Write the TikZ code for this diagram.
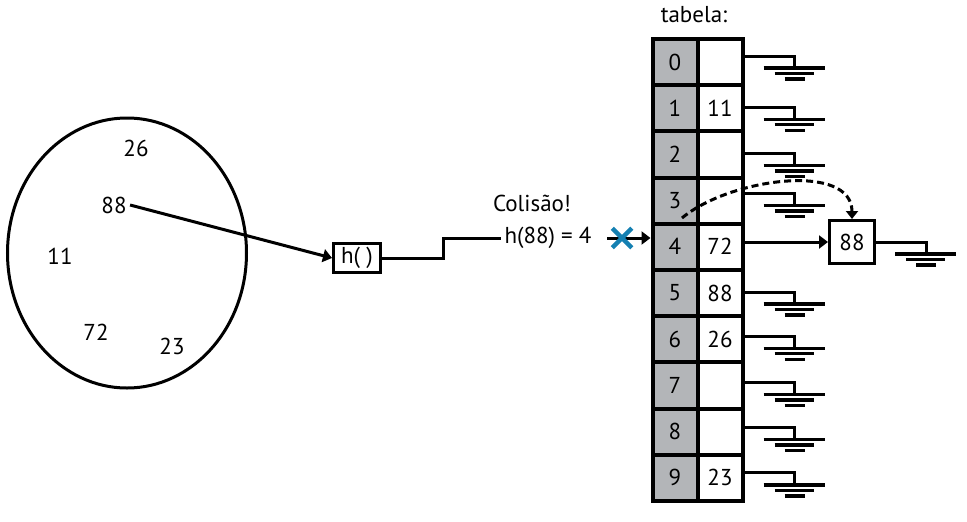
\documentclass[tikz,border=0pt]{standalone}
\usepackage{fontspec}
\setmainfont{PT Sans}
\usetikzlibrary{arrows.meta,shapes.geometric,shapes.misc}
\definecolor{slotgray}{RGB}{179,181,184}
\definecolor{hitblue}{RGB}{20,128,178}
\tikzset{
  slot/.style={draw, line width=4pt, minimum width=45pt, minimum height=46.2pt, inner sep=0pt},
  idx/.style={slot, fill=slotgray},
  val/.style={slot, fill=white},
  box/.style={draw, line width=3pt, inner sep=0pt},
  link/.style={line width=3pt, -{Triangle[length=9pt,width=13pt]}},
  earth/.pic={
    \draw[line width=3pt] (0,0) -| (50,12);
    \draw[line width=3.4pt] (19,12) -- (80,12) (30,17.5) -- (69,17.5) (40,23) -- (60,23);
  }
}
\begin{document}
\begin{tikzpicture}[x=1pt, y=-1pt, every node/.style={font=\fontsize{23}{27}\selectfont}]
  \useasboundingbox (0,0) rectangle (967,522);
  % the set of keys
  \node[draw, ellipse, line width=3pt, minimum width=239pt, minimum height=270pt] (set) at (127,253) {};
  \draw
    (136,148) node (k26){26}
    (114,205) node (k88){88}
    (60,256) node (k11){11}
    (96,332) node (k72){72}
    (172,346) node (k23){23};
  % hash function
  \node[box, minimum width=47pt, minimum height=29pt] (h) at (357,258) {h(\;)};
  \node (hv) at (548,238) {h(88) = 4};
  \node (col) at (532,203) {Colisão!};
  \node (tab) at (694,15) {tabela:};
  % the table
  \draw
    (675,62.0) node[idx] (i0){0}
    (675,108.2) node[idx] (i1){1}
    (675,154.4) node[idx] (i2){2}
    (675,200.6) node[idx] (i3){3}
    (675,246.8) node[idx] (i4){4}
    (675,293.0) node[idx] (i5){5}
    (675,339.2) node[idx] (i6){6}
    (675,385.4) node[idx] (i7){7}
    (675,431.6) node[idx] (i8){8}
    (675,477.8) node[idx] (i9){9};
  \draw
    (720,62.0) node[val] (v0){}
    (720,108.2) node[val] (v1){11}
    (720,154.4) node[val] (v2){}
    (720,200.6) node[val] (v3){}
    (720,246.8) node[val] (v4){72}
    (720,293.0) node[val] (v5){88}
    (720,339.2) node[val] (v6){26}
    (720,385.4) node[val] (v7){}
    (720,431.6) node[val] (v8){}
    (720,477.8) node[val] (v9){23};
  \node[box, minimum width=45pt, minimum height=43pt] (b88) at (852,242) {88};
  % empty lists
  \pic at ([yshift=6pt]v0.east) {earth};
  \pic at ([yshift=1pt]v1.east) {earth};
  \pic at ([yshift=1pt]v2.east) {earth};
  \pic at ([yshift=7pt]v3.east) {earth};
  \pic at ([yshift=1pt]v5.east) {earth};
  \pic at ([yshift=3pt]v6.east) {earth};
  \pic at ([yshift=3pt]v7.east) {earth};
  \pic at ([yshift=4pt]v8.east) {earth};
  \pic at ([yshift=5pt]v9.east) {earth};
  \pic at (b88.east) {earth};
  % connectors
  \draw[link] (k88.east) -- (h.west);
  \draw[line width=3pt] (h.east) -- ++(61,0) |- (hv.west);
  \coordinate (src) at (607,238);
  \draw[link] (src) -- (src -| i4.west);
  \node[cross out, draw=hitblue, line width=4.5pt, minimum size=15pt, inner sep=0pt] (hit) at (622,238) {};
  \draw[link] (v4.east |- b88.west) -- (b88.west);
  \coordinate (arcstart) at (682,218);
  \draw[line width=3pt, dash pattern=on 7pt off 4pt, -{Triangle[length=8pt,width=12pt]}]
    (arcstart) .. controls (730,178) and (852,162) .. (b88.north);
\end{tikzpicture}
\end{document}
